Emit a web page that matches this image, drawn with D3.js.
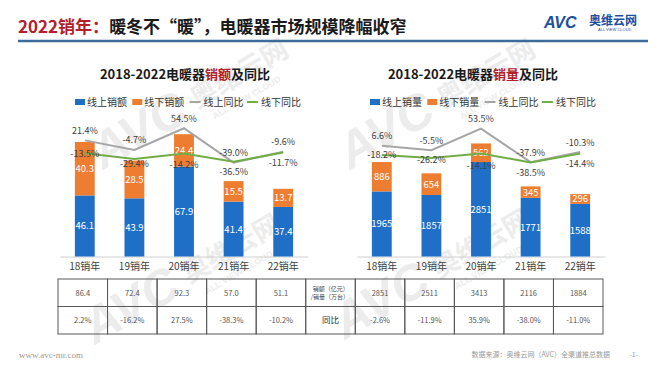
<!DOCTYPE html>
<html>
<head>
<meta charset="utf-8">
<script src="https://cdn.jsdelivr.net/npm/d3@7"></script>
<style>
    body { margin: 0; background: #fff; }
    svg { font-family: "Noto Sans CJK SC", "Noto Sans", sans-serif; }
</style>
</head>
<body>
<svg id="chart" width="660" height="372"></svg>
<script>
// ---- data ----
const years = ['18销年', '19销年', '20销年', '21销年', '22销年'];

const salesOnline = [46.1, 43.9, 67.9, 41.4, 37.4];
const salesOffline = [40.3, 28.5, 24.4, 15.5, 13.7];
const salesOnlineYoy = [21.4, -4.7, 54.5, -39.0, -9.6];
const salesOfflineYoy = [-13.5, -29.4, -14.2, -36.5, -11.7];

const volOnline = [1965, 1857, 2851, 1771, 1588];
const volOffline = [886, 654, 562, 345, 296];
const volOnlineYoy = [6.6, -5.5, 53.5, -37.9, -10.3];
const volOfflineYoy = [-18.2, -26.2, -14.1, -38.5, -14.4];

const salesTotal = [86.4, 72.4, 92.3, 57.0, 51.1];
const salesTotalYoy = [2.2, -16.2, 27.5, -38.3, -10.2];
const volTotal = [2851, 2511, 3413, 2116, 1884];
const volTotalYoy = [-2.6, -11.9, 35.9, -38.0, -11.0];

const BLUE = '#1f6fc6', ORANGE = '#ed7d31', GRAY = '#a6a6a6', GREEN = '#70ad47';
const RED = '#b3202b';

const svg = d3.select('#chart');

// ---- watermark ----
const marks = [[103, 170], [350, 170], [95, 345], [345, 340]];
marks.forEach(([mx, my]) => {
    const w = svg.append('g')
        .attr('transform', `translate(${mx},${my}) rotate(-30)`)
        .attr('fill', '#c8c8c8')
        .attr('opacity', 0.33);
    w.append('text').attr('font-size', 50).attr('font-weight', 'bold')
        .attr('font-style', 'italic').attr('font-family', 'Liberation Sans')
        .text('AVC');
    w.append('text').attr('x', 112).attr('y', -6).attr('font-size', 27)
        .attr('font-weight', 'bold').text('奥维云网');
    w.append('text').attr('x', 122).attr('y', 12).attr('font-size', 9)
        .attr('font-weight', 'bold').attr('font-family', 'Liberation Sans')
        .text('ALL VIEW CLOUD');
});

// ---- header ----
const head = svg.append('text').attr('x', 18).attr('y', 33)
    .attr('font-size', 17).attr('font-weight', 'bold');
head.append('tspan').attr('fill', RED).text('2022销年：');
head.append('tspan').attr('fill', '#1a1a1a').text('暖冬不“暖”，电暖器市场规模降幅收窄');

svg.append('line')
    .attr('x1', 18).attr('x2', 648).attr('y1', 41).attr('y2', 41)
    .attr('stroke', '#3d6c9b').attr('stroke-width', 2.5);

const logo = svg.append('g').attr('fill', '#1d4f9f');
logo.append('text').attr('x', 544).attr('y', 28).attr('font-size', 16)
    .attr('font-weight', 'bold').attr('font-family', 'Liberation Sans')
    .attr('font-style', 'italic').text('AVC');
logo.append('text').attr('x', 589).attr('y', 25).attr('font-size', 12)
    .attr('font-weight', 'bold').text('奥维云网');
logo.append('text').attr('x', 598).attr('y', 31).attr('font-size', 4)
    .attr('font-family', 'Liberation Sans').text('ALL VIEW CLOUD');

// ---- panels ----
function drawPanel(p) {
    const g = svg.append('g');

    const x = d3.scaleBand().domain(years).range(p.xRange)
        .paddingInner(0.6).paddingOuter(0.3);
    const y = d3.scaleLinear().domain(p.yDomain).range([256.5, 124]);
    const y2 = d3.scaleLinear().domain([-100, 100]).range([185, 111.5]);
    const cx = (d) => x(d) + x.bandwidth() / 2;

    // title
    const t = g.append('text').attr('x', p.titleX).attr('y', 79)
        .attr('text-anchor', 'middle').attr('font-size', 13).attr('font-weight', 'bold')
        .attr('fill', '#1a1a1a');
    t.append('tspan').text('2018-2022电暖器');
    t.append('tspan').attr('fill', RED).text(p.word);
    t.append('tspan').text('及同比');

    // legend
    const legend = [
        {name: p.names[0], color: BLUE, type: 'rect'},
        {name: p.names[1], color: ORANGE, type: 'rect'},
        {name: '线上同比', color: GRAY, type: 'line'},
        {name: '线下同比', color: GREEN, type: 'line'},
    ];
    const lg = g.selectAll('.lg').data(legend).enter().append('g')
        .attr('transform', (d, i) => `translate(${p.legendX + i * 57.3},102)`);
    lg.filter(d => d.type === 'rect').append('rect')
        .attr('x', 0).attr('y', -3).attr('width', 10).attr('height', 6)
        .attr('fill', d => d.color);
    lg.filter(d => d.type === 'line').append('line')
        .attr('x1', 0).attr('x2', 11).attr('y1', 0).attr('y2', 0)
        .attr('stroke', d => d.color).attr('stroke-width', 2);
    lg.append('text').attr('x', d => d.type === 'rect' ? 12 : 14).attr('y', 3.5)
        .attr('font-size', 10).attr('fill', '#333').text(d => d.name);

    // axis
    const axis = g.append('g').attr('transform', 'translate(0,256.5)')
        .call(d3.axisBottom(x).tickSize(0).tickPadding(6));
    axis.select('.domain').attr('stroke', '#d0d0d0');
    axis.selectAll('text').attr('font-size', 10).attr('fill', '#404040')
        .attr('font-family', '"Noto Sans CJK SC", sans-serif');

    // stacked bars
    const rows = years.map((yr, i) => ({year: yr, online: p.online[i], offline: p.offline[i]}));
    const series = d3.stack().keys(['online', 'offline'])(rows);
    const colors = {online: BLUE, offline: ORANGE};

    const layer = g.selectAll('.layer').data(series).enter().append('g')
        .attr('fill', d => colors[d.key]);
    layer.selectAll('rect').data(d => d).enter().append('rect')
        .attr('x', d => x(d.data.year))
        .attr('width', x.bandwidth())
        .attr('y', d => y(d[1]))
        .attr('height', d => y(d[0]) - y(d[1]));
    layer.selectAll('text').data(d => d).enter().append('text')
        .attr('x', d => cx(d.data.year))
        .attr('y', d => (y(d[0]) + y(d[1])) / 2 + 3.5)
        .attr('text-anchor', 'middle').attr('font-size', 9.5).attr('fill', '#fff')
        .text(d => p.fmt(d[1] - d[0]));

    // yoy lines
    const line = d3.line().x((d, i) => cx(years[i])).y(d => y2(d));
    [[p.onYoy, GRAY, -10, null], [p.offYoy, GREEN, 10, p.offDy]].forEach(([vals, color, dy, dys]) => {
        g.append('path').datum(vals)
            .attr('d', line).attr('fill', 'none')
            .attr('stroke', color).attr('stroke-width', 2);
        g.selectAll(null).data(vals).enter().append('text')
            .attr('x', (d, i) => cx(years[i]))
            .attr('y', (d, i) => y2(d) + (dys ? dys[i] : dy) + 3.5)
            .attr('text-anchor', 'middle').attr('font-size', 9).attr('fill', '#404040')
            .text(d => d.toFixed(1) + '%');
    });
}

drawPanel({
    xRange: [60, 308], yDomain: [0, 100], titleX: 185, word: '销额', legendX: 75,
    names: ['线上销额', '线下销额'],
    online: salesOnline, offline: salesOffline,
    onYoy: salesOnlineYoy, offYoy: salesOfflineYoy, offDy: [0, 4, 11, 10, 10],
    fmt: v => v.toFixed(1),
});
drawPanel({
    xRange: [357, 605], yDomain: [0, 4000], titleX: 473, word: '销量', legendX: 370,
    names: ['线上销量', '线下销量'],
    online: volOnline, offline: volOffline,
    onYoy: volOnlineYoy, offYoy: volOfflineYoy, offDy: [0, 2, 12, 10, 10],
    fmt: v => d3.format('d')(Math.round(v)),
});

// ---- table ----
const col = d3.scaleBand().domain(d3.range(11)).range([58, 603]);
const row = d3.scaleBand().domain([0, 1]).range([279, 334]);
const cells = [
    salesTotal.map(v => v.toFixed(1)).concat([null], volTotal.map(v => String(v))),
    salesTotalYoy.map(v => v.toFixed(1) + '%').concat(['同比'], volTotalYoy.map(v => v.toFixed(1) + '%')),
];
const tbl = svg.append('g');
cells.forEach((r, ri) => {
    r.forEach((txt, ci) => {
        tbl.append('rect')
            .attr('x', col(ci)).attr('y', row(ri))
            .attr('width', col.bandwidth()).attr('height', row.bandwidth())
            .attr('fill', 'none').attr('stroke', '#595959').attr('stroke-width', 1);
        if (txt === null) return;
        tbl.append('text')
            .attr('x', col(ci) + col.bandwidth() / 2)
            .attr('y', row(ri) + row.bandwidth() / 2 + 3)
            .attr('text-anchor', 'middle')
            .attr('font-size', txt === '同比' ? 8.5 : 7.5)
            .attr('fill', txt === '同比' ? '#333' : '#555')
            .text(txt);
    });
});
const lab = tbl.append('text').attr('font-size', 6).attr('fill', '#444');
lab.append('tspan').attr('x', col(5) + 7).attr('y', row(0) + 12).text('销额（亿元）');
lab.append('tspan').attr('x', col(5) + 5).attr('y', row(0) + 20).text('/销量（万台）');

// ---- footer ----
svg.append('text').attr('x', 19).attr('y', 358).attr('font-size', 9)
    .attr('font-family', 'Liberation Serif').attr('fill', '#999').text('www.avc-mr.com');
svg.append('text').attr('x', 610).attr('y', 357).attr('text-anchor', 'end')
    .attr('font-size', 7).attr('fill', '#999').text('数据来源：奥维云网（AVC）全渠道推总数据');
svg.append('text').attr('x', 638).attr('y', 357).attr('text-anchor', 'end')
    .attr('font-size', 7).attr('fill', '#999').text('-1-');
</script>
</body>
</html>
